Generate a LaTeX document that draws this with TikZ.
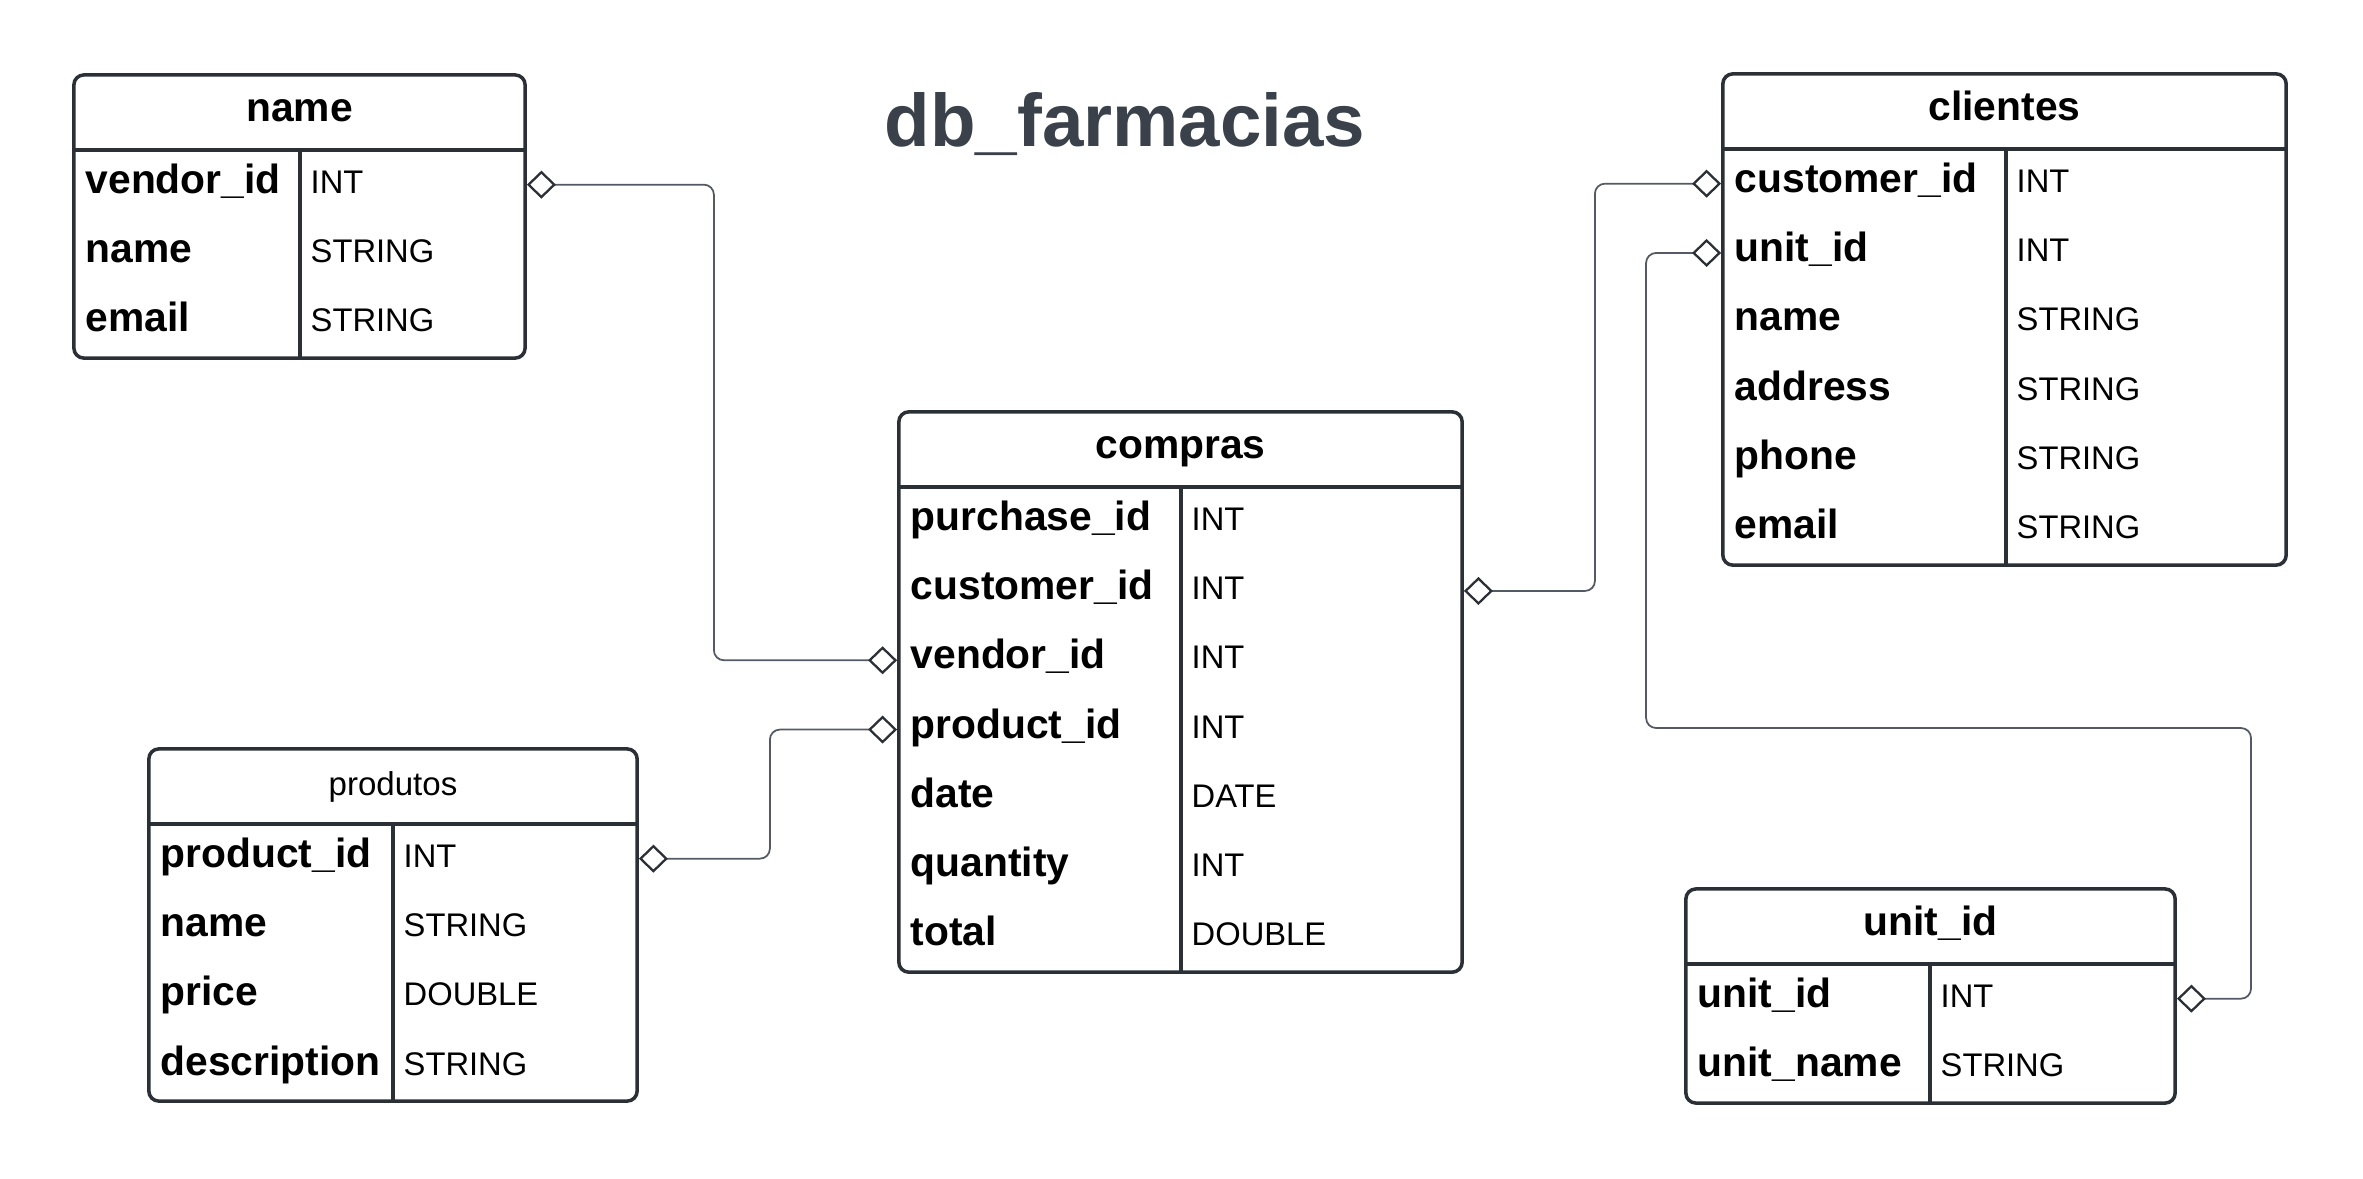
\documentclass[tikz,border=0pt]{standalone}
\usepackage{fontspec}
\setmainfont{Liberation Sans}
\usetikzlibrary{arrows.meta}
\definecolor{framegray}{HTML}{2B2F36}
\definecolor{linkgray}{HTML}{545A63}
\definecolor{titlegray}{HTML}{3A414A}
\tikzset{
  tablebox/.style={draw=framegray,line width=1pt,rounded corners=1mm,inner sep=0pt},
  tableline/.style={draw=framegray,line width=1pt},
  tablehead/.style={font=\bfseries\fontsize{11.6}{14}\selectfont,inner sep=0pt,text height=3mm,text depth=1.3mm},
  field/.style={anchor=west,font=\bfseries\fontsize{11.6}{14}\selectfont,inner sep=0pt,text height=3mm,text depth=1.3mm},
  coltype/.style={anchor=west,font=\fontsize{9.3}{11}\selectfont,inner sep=0pt,text height=3mm,text depth=1.3mm},
  relation/.style={draw=linkgray,line width=0.5pt,rounded corners=1mm,
    arrows={Diamond[open,length=2.9mm,width=2.8mm,line width=0.65pt,color=framegray]-Diamond[open,length=2.9mm,width=2.8mm,line width=0.65pt,color=framegray]}}
}
\begin{document}
\begin{tikzpicture}[x=0.01cm,y=-0.01cm]
\useasboundingbox (0,0) rectangle (2363,1178);
\node[anchor=base,text=titlegray,font=\bfseries\fontsize{21.2}{25}\selectfont] (title) at (1125,146) {db\_farmacias};
% name
\node[tablebox,minimum width=4.51cm,minimum height=2.83cm] (nm) at (299.5,216.5) {};
\draw[tableline] (74,150) -- (525,150);
\draw[tableline] (300,150) -- (300,358);
\node[tablehead] (nm-h) at (299.5,112.5) {name};
\foreach \f/\t [count=\i] in {vendor\_id/INT,name/STRING,email/STRING}{
  \node[field] (nm-\i) at (85,{150+69.3*(\i-0.5)}) {\f};
  \node[coltype] (nm-t\i) at (310,{150+69.3*(\i-0.5)}) {\t};
}
% compras
\node[tablebox,minimum width=5.63cm,minimum height=5.6cm] (cmp) at (1180.5,692) {};
\draw[tableline] (899,487) -- (1462,487);
\draw[tableline] (1181,487) -- (1181,972);
\node[tablehead] (cmp-h) at (1180.5,449.5) {compras};
\foreach \f/\t [count=\i] in {purchase\_id/INT,customer\_id/INT,vendor\_id/INT,product\_id/INT,date/DATE,quantity/INT,total/DOUBLE}{
  \node[field] (cmp-\i) at (910,{487+69.3*(\i-0.5)}) {\f};
  \node[coltype] (cmp-t\i) at (1191,{487+69.3*(\i-0.5)}) {\t};
}
% clientes
\node[tablebox,minimum width=5.63cm,minimum height=4.91cm] (cli) at (2004.5,319.5) {};
\draw[tableline] (1723,149) -- (2286,149);
\draw[tableline] (2006,149) -- (2006,565);
\node[tablehead] (cli-h) at (2004.5,111.5) {clientes};
\foreach \f/\t [count=\i] in {customer\_id/INT,unit\_id/INT,name/STRING,address/STRING,phone/STRING,email/STRING}{
  \node[field] (cli-\i) at (1734,{149+69.3*(\i-0.5)}) {\f};
  \node[coltype] (cli-t\i) at (2016,{149+69.3*(\i-0.5)}) {\t};
}
% produtos
\node[tablebox,minimum width=4.88cm,minimum height=3.52cm] (prd) at (393,925) {};
\draw[tableline] (149,824) -- (637,824);
\draw[tableline] (393,824) -- (393,1101);
\node[tablehead,font=\fontsize{9.4}{11}\selectfont] (prd-h) at (393,786.5) {produtos};
\foreach \f/\t [count=\i] in {product\_id/INT,name/STRING,price/DOUBLE,description/STRING}{
  \node[field] (prd-\i) at (160,{824+69.3*(\i-0.5)}) {\f};
  \node[coltype] (prd-t\i) at (403,{824+69.3*(\i-0.5)}) {\t};
}
% unit_id
\node[tablebox,minimum width=4.89cm,minimum height=2.14cm] (uni) at (1930.5,996) {};
\draw[tableline] (1686,964) -- (2175,964);
\draw[tableline] (1930,964) -- (1930,1103);
\node[tablehead] (uni-h) at (1930.5,926.5) {unit\_id};
\foreach \f/\t [count=\i] in {unit\_id/INT,unit\_name/STRING}{
  \node[field] (uni-\i) at (1697,{964+69.3*(\i-0.5)}) {\f};
  \node[coltype] (uni-t\i) at (1940,{964+69.3*(\i-0.5)}) {\t};
}
% relations
\coordinate (turn) at (2251,728);
\draw[relation] (nm-1.west -| nm.east) -- ++(187,0) |- (cmp-3.west -| cmp.west);
\draw[relation] (prd-1.west -| prd.east) -- ++(131,0) |- (cmp-4.west -| cmp.west);
\draw[relation] (cmp-2.west -| cmp.east) -- ++(131,0) |- (cli-1.west -| cli.west);
\draw[relation] (cli-2.west -| cli.west) -- ++(-75,0) |- (turn) |- (uni-1.west -| uni.east);
\end{tikzpicture}
\end{document}
